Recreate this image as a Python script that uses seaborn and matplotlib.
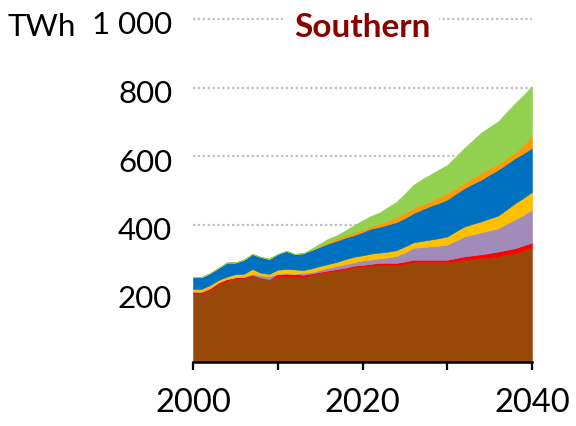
import numpy as np
import pandas as pd
import matplotlib
matplotlib.use("Agg")
import matplotlib.pyplot as plt
from matplotlib.transforms import ScaledTranslation
import seaborn as sns

years = list(range(2000, 2041))

coal = [197, 199, 209, 224, 236, 241, 241, 253, 245, 240,
        248, 248, 248, 245, 253, 258, 262, 264, 269, 275,
        277, 280, 281, 281, 281, 285, 290, 290, 290, 290,
        290, 293, 297, 299, 302, 304, 307, 312, 316, 324, 333]
oil = [7, 5, 5, 7, 5, 5, 6, 0, 0, 0,
       8, 9, 8, 8, 4, 4, 4, 6, 5, 5,
       5, 5, 7, 7, 7, 7, 7, 7, 7, 7,
       7, 9, 10, 11, 11, 13, 14, 14, 15, 15, 14]
gas = [0, 0, 0, 0, 0, 0, 0, 3, 6, 9,
       0, 0, 0, 6, 4, 6, 8, 9, 10, 10,
       13, 13, 13, 16, 20, 27, 35, 37, 39, 41,
       44, 51, 58, 61, 64, 66, 68, 76, 84, 89, 96]
nuclear = [8, 8, 9, 7, 7, 9, 9, 14, 8, 7,
           12, 13, 13, 8, 11, 11, 11, 12, 15, 16,
           15, 17, 17, 17, 17, 17, 16, 18, 20, 22,
           24, 27, 29, 31, 32, 35, 37, 42, 47, 50, 52]
hydro = [34, 34, 35, 35, 41, 34, 41, 44, 46, 43,
         46, 53, 45, 49, 54, 56, 60, 62, 63, 63,
         68, 73, 75, 79, 82, 83, 85, 92, 98, 103,
         108, 110, 112, 117, 122, 128, 134, 133, 132, 130, 129]
bioenergy = [0, 0, 0, 0, 0, 0, 0, 0, 0, 0,
             0, 0, 0, 0, 0, 2, 5, 7, 7, 8,
             7, 7, 10, 12, 15, 15, 15, 14, 14, 17,
             19, 17, 15, 17, 20, 18, 17, 17, 16, 25, 34]
other_renewables = [0, 0, 0, 0, 0, 0, 0, 0, 0, 3,
                    0, 0, 0, 0, 4, 8, 9, 9, 14, 21,
                    27, 30, 32, 39, 44, 56, 68, 74, 78, 80,
                    82, 91, 102, 110, 117, 121, 124, 134, 144, 145, 146]

series_names = ["Coal", "Oil", "Gas", "Nuclear", "Hydro", "Bioenergy", "Other renewables"]
series_colors = ["#984807", "#FF0000", "#A18BB8", "#FFC000", "#0070C0", "#FF9900", "#92D050"]

y_ticks = [200, 400, 600, 800, 1000]
y_tick_labels = ["200", "400", "600", "800", "1 000"]
x_ticks = [2000, 2010, 2020, 2030, 2040]
x_tick_labels = ["2000", "", "2020", "", "2040"]
title = "Southern"
unit = "TWh"

df = pd.DataFrame({"year": years, "Coal": coal, "Oil": oil, "Gas": gas,
                   "Nuclear": nuclear, "Hydro": hydro, "Bioenergy": bioenergy,
                   "Other renewables": other_renewables})

sns.set_theme(style="white")
plt.rcParams["font.family"] = ["Lato", "DejaVu Sans"]

fig = plt.figure(figsize=(5.76, 4.26), dpi=100)
ax = fig.add_axes([193 / 576, (426 - 361.5) / 426, (532 - 193) / 576, 342.5 / 426])

ax.stackplot(df["year"], *[df[n] for n in series_names], colors=series_colors,
             labels=series_names, linewidth=0.4, edgecolor="face", zorder=2)

ax.set_xlim(2000, 2040)
ax.set_ylim(0, 1000)
ax.set_yticks(y_ticks)
ax.set_yticklabels(y_tick_labels)
ax.set_xticks(x_ticks)
ax.set_xticklabels(x_tick_labels)

for v in y_ticks:
    ax.axhline(v, color="#BFBFBF", linestyle=(0, (1, 1.2)), linewidth=1.6, zorder=1, clip_on=False)

for s in ["left", "right", "top"]:
    ax.spines[s].set_visible(False)
ax.spines["bottom"].set_color("black")
ax.spines["bottom"].set_linewidth(1.8)
ax.spines["bottom"].set_zorder(3)

ax.tick_params(axis="x", direction="out", length=6, width=1.6, color="black",
               pad=13, labelsize=23.5, labelcolor="black", bottom=True)
ax.tick_params(axis="y", length=0, pad=15, labelsize=22.5, labelcolor="black")

off = ScaledTranslation(0, -4 / 100, fig.dpi_scale_trans)
for lab in ax.get_yticklabels():
    lab.set_transform(lab.get_transform() + off)

title_off = ScaledTranslation(0, -6 / 100, fig.dpi_scale_trans)
ax.text(0.5, 1000, title, transform=ax.get_yaxis_transform() + title_off,
        ha="center", va="center_baseline", fontsize=24, fontweight="bold", color="#8B0000",
        bbox=dict(facecolor="white", edgecolor="none", pad=6), zorder=5)

fig.text(7 / 576, 1 - 25 / 426, unit, ha="left", va="center_baseline", fontsize=22.5, color="black")

fig.savefig("out.png", dpi=100, facecolor="white")
